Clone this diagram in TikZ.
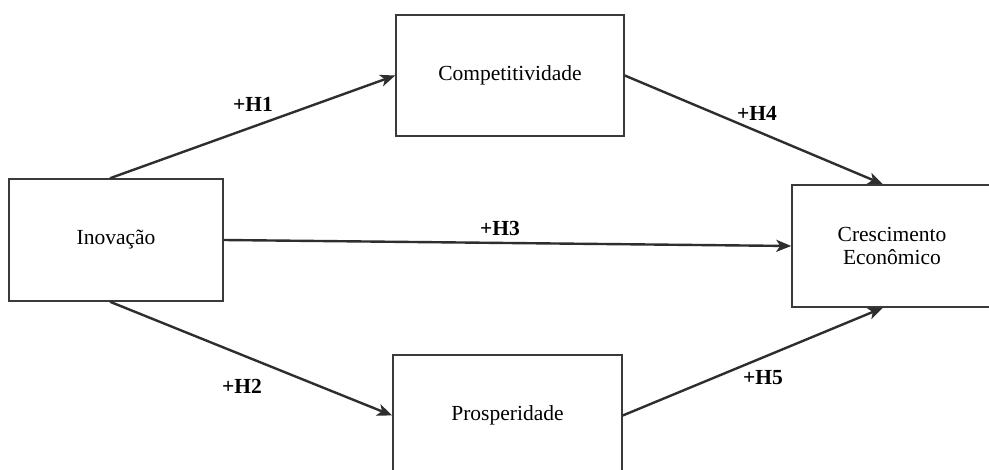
\documentclass[tikz,border=0pt]{standalone}
\usepackage{fontspec}
\setmainfont{Liberation Serif}
\usetikzlibrary{arrows.meta}
\definecolor{boxline}{HTML}{3A3A3A}
\definecolor{arrline}{HTML}{2E2E2E}
\tikzset{
  box/.style={draw=boxline, line width=1.5pt, fill=white, inner sep=0pt, align=center,
    font=\fontsize{21.5}{23.5}\selectfont},
  hyp/.style={font=\bfseries\fontsize{21.5}{24}\selectfont, inner sep=0pt},
  link/.style={draw=arrline, line width=2.4pt, -{Stealth[length=15pt,width=12pt,inset=4pt]}}
}
\begin{document}
\begin{tikzpicture}[x=1pt,y=-1pt]
\useasboundingbox (0,0) rectangle (989,470);
\clip (0,0) rectangle (989,470);
\fill[white] (0,0) rectangle (989,470);
\node[box, minimum width=214pt, minimum height=122pt] (ino) at (116,240) {Inovação};
\node[box, minimum width=228pt, minimum height=121pt] (comp) at (510,75.5) {Competitividade};
\node[box, minimum width=229pt, minimum height=121pt] (pros) at (507.5,415.5) {Prosperidade};
\node[box, minimum width=200pt, minimum height=122pt] (cres) at (892,246) {Crescimento\\Econômico};
\draw[link] ([xshift=-6pt]ino.north) -- (comp.west);
\draw[link] (comp.east) -- ([xshift=-9pt]cres.north);
\draw[link] (ino.east) -- (cres.west);
\draw[link] ([xshift=-6pt]ino.south) -- (pros.west);
\draw[link] (pros.east) -- ([xshift=-9pt]cres.south);
\node[hyp] (h1) at (253,104) {+H1};
\node[hyp] (h2) at (242,386) {+H2};
\node[hyp] (h3) at (500,228) {+H3};
\node[hyp] (h4) at (757,113) {+H4};
\node[hyp] (h5) at (763,378) {+H5};
\end{tikzpicture}
\end{document}
